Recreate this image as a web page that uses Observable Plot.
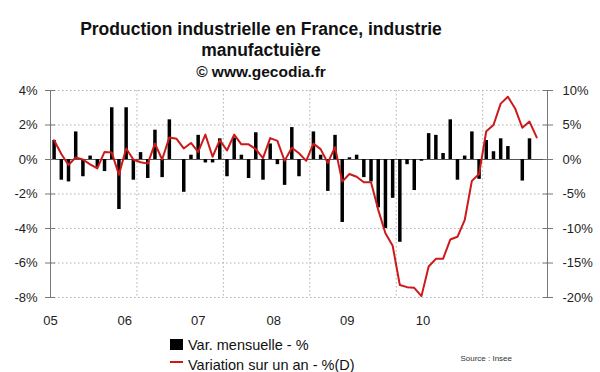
<!DOCTYPE html>
<html>
<head>
<meta charset="utf-8">
<script src="https://cdn.jsdelivr.net/npm/d3@7"></script>
<script src="https://cdn.jsdelivr.net/npm/@observablehq/plot@0.6"></script>
<style>
  body { margin: 0; background: #fff; }
  #wrap { position: relative; width: 600px; height: 372px; overflow: hidden; font-family: "Liberation Sans", Arial, sans-serif; color: #111; }
  .t { position: absolute; left: 0; width: 522px; text-align: center; font-weight: bold; white-space: nowrap; }
  .leg { position: absolute; left: 188px; font-size: 14.5px; line-height: 17px; white-space: nowrap; color: #111; }
  #chart { position: absolute; left: 0; top: 0; }
</style>
</head>
<body>
<div id="wrap">
  <div id="chart"></div>
  <div class="t" style="top:19px;font-size:17.5px;line-height:20px;">Production industrielle en France, industrie</div>
  <div class="t" style="top:40px;font-size:17.5px;line-height:20px;">manufactuière</div>
  <div class="t" style="top:62.5px;font-size:15.5px;line-height:18px;">© www.gecodia.fr</div>
  <div style="position:absolute;left:170px;top:339px;width:13px;height:11px;background:#000;"></div>
  <div class="leg" style="top:336.5px;">Var. mensuelle - %</div>
  <div style="position:absolute;left:170px;top:361px;width:13px;height:2px;background:#cc1a1a;"></div>
  <div class="leg" style="top:357px;">Variation sur un an - %(D)</div>
  <div style="position:absolute;left:400px;width:112px;top:354px;font-size:8px;line-height:10px;text-align:right;color:#333;">Source : Insee</div>
</div>
<script>
// Monthly data, Jan 2005 .. Aug 2010 (axis runs to Sep 2010)
const varMensuelle = [
  1.1, -1.2, -1.3, 1.6, -1.0, 0.2, -0.45, -0.7, 3.0, -2.9, 3.0, -1.2,
  0.4, -1.1, 1.7, -1.05, 2.3, 0, -1.9, 0.25, 1.4, -0.2, -0.2, 1.2,
  -1.0, 1.25, 0.25, -1.1, 1.55, -1.2, 0.9, -0.3, -1.5, 1.85, -1.0, 0,
  1.6, 0.25, -1.85, 1.4, -3.65, 0.1, 0.25, -1.05, -1.3, -2.8, -4.0, -2.25,
  -4.8, -0.3, -1.8, -0.1, 1.5, 1.4, 0.35, 2.3, -1.2, 0.2, 1.6, -1.15,
  1.1, 0.45, 1.2, 0.75, 0, -1.25, 1.2, 0
];
const variationAn = [
  2.8, 0.8, -0.8, 0.3, 0.0, -0.7, -1.3, 1.1, 1.0, -2.2, 1.6, 0.0,
  -0.4, -0.6, 2.3, 0.0, 3.2, 3.0, 1.6, 2.4, 1.1, 3.6, 0.4, 2.8,
  1.3, 3.6, 2.2, 2.2, 1.5, 0.2, 3.1, 2.7, -0.2, 1.7, 0.9, -0.2,
  2.3, 1.5, -0.5, 1.8, -3.2, -2.1, -2.5, -3.3, -3.3, -7.3, -10.7, -12.5,
  -18.2, -18.5, -18.6, -19.8, -15.5, -14.4, -14.4, -11.6, -11.2, -8.8, -3.1, -2.1,
  4.1, 5.0, 8.1, 9.1, 7.4, 4.6, 5.5, 3.2
];
const nMonths = 69;
const yearLabels = ["05", "06", "07", "08", "09", "10"];
const yearStarts = [12, 24, 36, 48, 60];
const leftTicks = [4, 2, 0, -2, -4, -6, -8];
const rightFactor = 2.5; // right axis (%) = left axis value * 2.5

const bars = varMensuelle.map((v, i) => ({i, v}));
const yoy = variationAn.map((v, i) => ({i, v}));
const xLabelAt = [0, 10.3, 20.5, 31, 41.2, 51.7];
const labelOf = new Map(xLabelAt.map((p, k) => [p, yearLabels[k]]));

const grid = "#b0b0b0";
const chart = Plot.plot({
  width: 600,
  height: 372,
  marginTop: 90,
  marginBottom: 75,
  marginLeft: 50,
  marginRight: 53,
  style: {fontFamily: "'Liberation Sans', Arial, sans-serif", fontSize: "13px", color: "#222", background: "transparent", overflow: "visible"},
  x: {type: "linear", domain: [0, nMonths], axis: null},
  y: {domain: [-8, 4], axis: null},
  marks: [
    Plot.ruleY(leftTicks.filter(d => d !== 0), {stroke: grid, strokeDasharray: "1.5,2.5"}),
    Plot.ruleX(yearStarts, {stroke: grid, strokeDasharray: "1.5,2.5"}),
    Plot.ruleX([0, nMonths], {stroke: "#777"}),
    Plot.ruleY([0], {stroke: "#555"}),
    Plot.ruleX(bars, {x: d => d.i + 0.5, y1: 0, y2: "v", stroke: "#000", strokeWidth: 3.5}),
    Plot.line(yoy, {x: d => d.i + 0.5, y: d => d.v / rightFactor, stroke: "#cc1a1a", strokeWidth: 2, strokeLinejoin: "round"}),
    Plot.axisY({anchor: "left", label: null, ticks: leftTicks, tickSize: 10, dx: 5, tickPadding: 8, tickFormat: d => d + "%", stroke: "#777", fill: "#222"}),
    Plot.axisY({anchor: "right", label: null, ticks: leftTicks, tickSize: 10, dx: -5, tickPadding: 10, tickFormat: d => Math.round(d * rightFactor) + "%", stroke: "#777", fill: "#222"}),
    Plot.axisX({label: null, ticks: xLabelAt, tickSize: 0, tickPadding: 18, tickFormat: d => labelOf.get(d), fill: "#222"})
  ]
});
document.getElementById("chart").appendChild(chart);
</script>
</body>
</html>
